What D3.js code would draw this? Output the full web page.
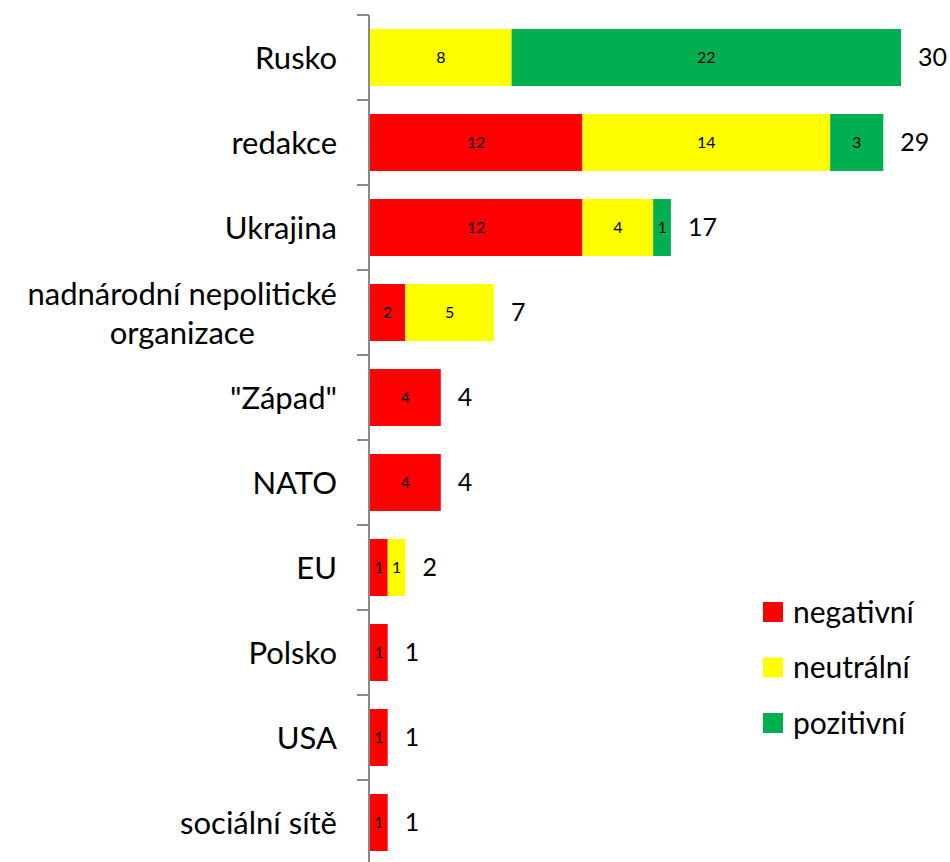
<!DOCTYPE html>
<html>
<head>
<meta charset="utf-8">
<script src="https://cdn.jsdelivr.net/npm/d3@7"></script>
<style>
  body { margin: 0; background: #fff; }
  text { font-family: Lato, "Open Sans", sans-serif; fill: #000; }
</style>
</head>
<body>
<svg width="950" height="862"></svg>
<script>
var categories = ["Rusko", "redakce", "Ukrajina", "nadnárodní nepolitické\norganizace", "\"Západ\"", "NATO", "EU", "Polsko", "USA", "sociální sítě"];
var negativni = [0, 12, 12, 2, 4, 4, 1, 1, 1, 1];
var neutralni = [8, 14, 4, 5, 0, 0, 1, 0, 0, 0];
var pozitivni = [22, 3, 1, 0, 0, 0, 0, 0, 0, 0];
var seriesNames = ["negativní", "neutrální", "pozitivní"];
var seriesColors = ["#ff0000", "#ffff00", "#00b050"];

var svg = d3.select("svg");

var rows = categories.map(function(c, i) {
  return {cat: c, negativni: negativni[i], neutralni: neutralni[i], pozitivni: pozitivni[i]};
});
var keys = ["negativni", "neutralni", "pozitivni"];
var stack = d3.stack().keys(keys)(rows);

var x = d3.scaleLinear().domain([0, 30]).range([370, 901]);
var y = d3.scaleBand().domain(categories).range([15, 865]).paddingInner(0.33).paddingOuter(0.165);

// bars
var layer = svg.append("g").selectAll("g")
  .data(stack).enter().append("g")
  .attr("fill", function(d, i) { return seriesColors[i]; });

layer.selectAll("rect")
  .data(function(d) { return d.filter(function(s) { return s[1] > s[0]; }); })
  .enter().append("rect")
  .attr("x", function(d) { return x(d[0]); })
  .attr("width", function(d) { return x(d[1]) - x(d[0]); })
  .attr("y", function(d) { return y(d.data.cat); })
  .attr("height", y.bandwidth());

// values inside segments
layer.selectAll("text")
  .data(function(d) { return d.filter(function(s) { return s[1] > s[0]; }); })
  .enter().append("text")
  .attr("x", function(d) { return (x(d[0]) + x(d[1])) / 2; })
  .attr("y", function(d) { return y(d.data.cat) + y.bandwidth() / 2; })
  .attr("dy", "0.35em")
  .attr("text-anchor", "middle")
  .style("font-size", "16px")
  .text(function(d) { return d[1] - d[0]; });

// totals
svg.append("g").selectAll("text")
  .data(rows).enter().append("text")
  .attr("x", function(d) { return x(d.negativni + d.neutralni + d.pozitivni) + 17; })
  .attr("y", function(d) { return y(d.cat) + y.bandwidth() / 2; })
  .attr("dy", "0.35em")
  .style("font-size", "25px")
  .text(function(d) { return d.negativni + d.neutralni + d.pozitivni; });

// axis line and ticks at band boundaries
var axis = svg.append("g").attr("stroke", "#898989").attr("stroke-width", 2);
axis.append("line").attr("x1", 369).attr("x2", 369).attr("y1", 15).attr("y2", 862);
var step = y.step();
d3.range(categories.length + 1).forEach(function(k) {
  var yy = 15 + k * step;
  axis.append("line").attr("x1", 357).attr("x2", 369).attr("y1", yy).attr("y2", yy);
});

// category labels
var labels = svg.append("g").selectAll("text")
  .data(categories).enter().append("text")
  .style("font-size", "31px")
  .attr("text-anchor", "end");
labels.each(function(c) {
  var t = d3.select(this);
  var lines = c.split("\n");
  var cy = y(c) + y.bandwidth() / 2 + 1;
  if (lines.length === 1) {
    t.attr("x", 337).attr("y", cy).attr("dy", "0.35em").text(c);
  } else {
    // measure the widest line, center lines in that block
    t.attr("text-anchor", "middle");
    var tmp = svg.append("text").style("font-size", "31px");
    var w = d3.max(lines, function(l) { return tmp.text(l).node().getComputedTextLength(); });
    tmp.remove();
    var lh = 39;
    lines.forEach(function(l, j) {
      t.append("tspan")
        .attr("x", 337 - w / 2)
        .attr("y", cy + (j - (lines.length - 1) / 2) * lh)
        .attr("dy", "0.35em")
        .text(l);
    });
  }
});

// legend
var legend = svg.append("g").selectAll("g")
  .data(seriesNames).enter().append("g")
  .attr("transform", function(d, i) { return "translate(763," + (612 + i * 55.5) + ")"; });
legend.append("rect")
  .attr("x", 0).attr("y", -10).attr("width", 20).attr("height", 20)
  .attr("fill", function(d, i) { return seriesColors[i]; });
legend.append("text")
  .attr("x", 30).attr("dy", "0.35em")
  .style("font-size", "30px")
  .text(function(d) { return d; });
</script>
</body>
</html>
